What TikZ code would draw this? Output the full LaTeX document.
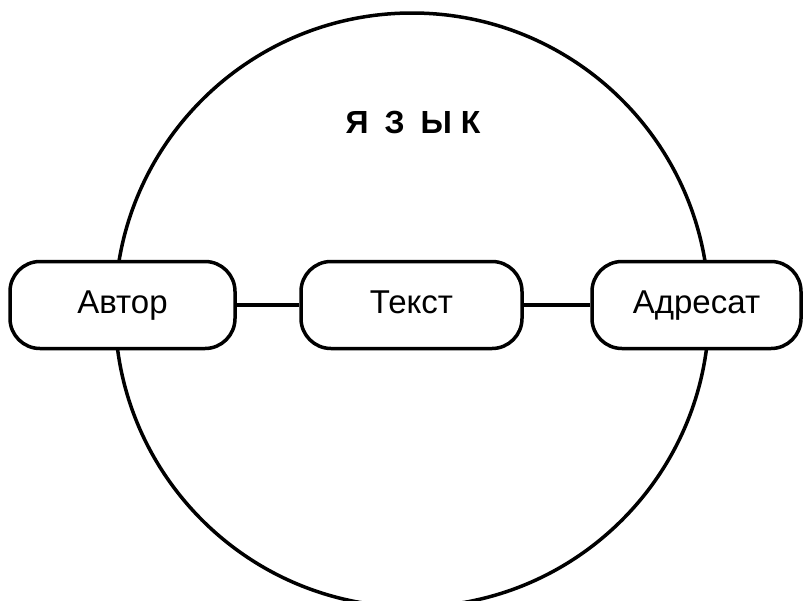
\documentclass[tikz,border=0pt]{standalone}
\usepackage{fontspec}
\setmainfont{Liberation Sans}
\begin{document}
\begin{tikzpicture}[x=1pt,y=-1pt,
  box/.style={draw, line width=3.5pt, fill=white, rounded corners=30pt,
    minimum height=87pt, inner sep=0pt, text height=24pt, text depth=7pt,
    font=\fontsize{33}{36}\selectfont},
  link/.style={line width=4pt}]
\useasboundingbox (0,0) rectangle (803,600);
\clip (0,0) rectangle (803,600);
\node[draw, circle, line width=3.5pt, minimum size=594pt, inner sep=0pt] (lang) at (412,310) {};
\node[font=\bfseries\fontsize{32}{36}\selectfont] (title) at (413,122) {Я\hspace{16pt}З\hspace{16pt}Ы\hspace{9pt}К};
\node[box, minimum width=225pt] (author) at (122.5,305) {Автор};
\node[box, minimum width=221pt] (text) at (411.5,305) {Текст};
\node[box, minimum width=209pt] (addr) at (696.5,305) {Адресат};
\draw[link] (author) -- (text);
\draw[link] (text) -- (addr);
\end{tikzpicture}
\end{document}
